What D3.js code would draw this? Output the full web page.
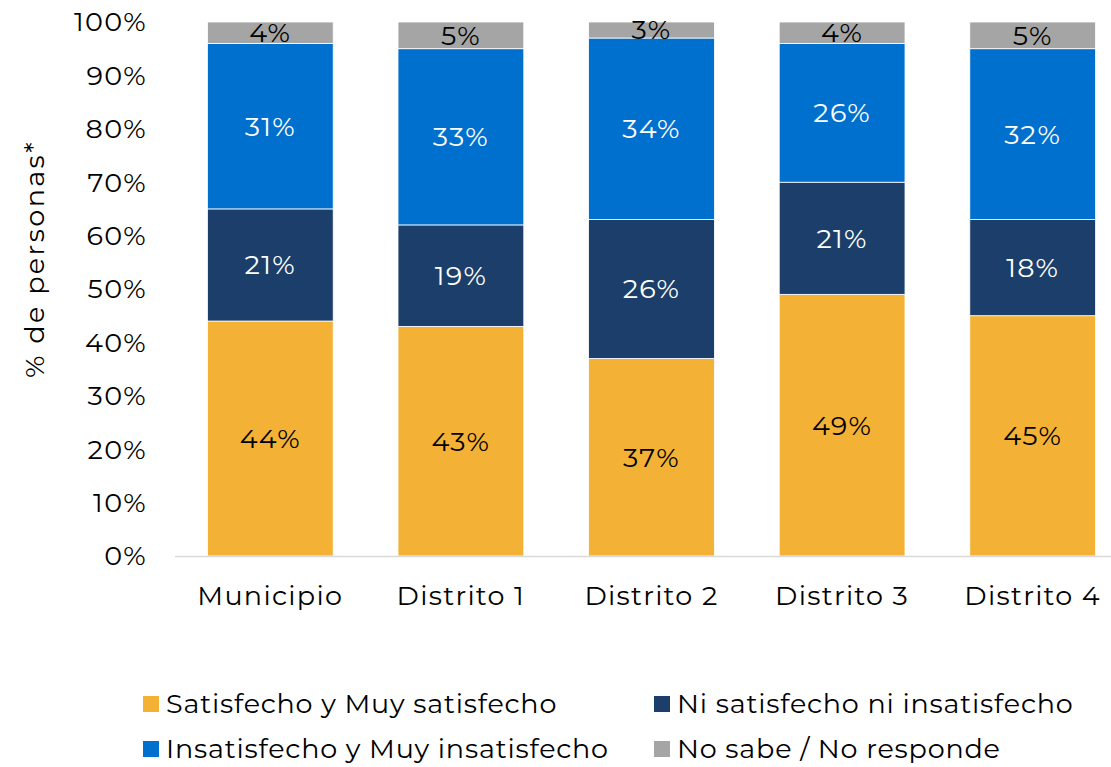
<!DOCTYPE html>
<html>
<head>
<meta charset="utf-8">
<script src="https://cdn.jsdelivr.net/npm/d3@7"></script>
<style>
  html, body { margin: 0; padding: 0; background: #fff; }
  svg text { font-family: Montserrat, "Open Sans", sans-serif; }
</style>
</head>
<body>
<svg id="chart" width="1111" height="767"></svg>
<script>
// Categories and series (percent of people)
const categories = ["Municipio", "Distrito 1", "Distrito 2", "Distrito 3", "Distrito 4"];
const seriesNames = [
  "Satisfecho y Muy satisfecho",
  "Ni satisfecho ni insatisfecho",
  "Insatisfecho y Muy insatisfecho",
  "No sabe / No responde"
];
const satisfecho    = [44, 43, 37, 49, 45];
const neutral       = [21, 19, 26, 21, 18];
const insatisfecho  = [31, 33, 34, 26, 32];
const noSabe        = [4, 5, 3, 4, 5];
const yTicks = [0, 10, 20, 30, 40, 50, 60, 70, 80, 90, 100];
const colors = ["#F3B235", "#1B3F6A", "#0070CF", "#A5A5A5"];
const labelColors = ["#000", "#fff", "#fff", "#000"];

const seriesValues = [satisfecho, neutral, insatisfecho, noSabe];
const rows = categories.map((c, i) => {
  const r = { cat: c };
  seriesNames.forEach((s, k) => r[s] = seriesValues[k][i]);
  return r;
});
const stacked = d3.stack().keys(seriesNames)(rows);

const svg = d3.select("#chart");
const margin = { left: 175, right: 1128, top: 22, bottom: 556 };
const FS = 27, LS = 1.3;

const x = d3.scaleBand().domain(categories).range([margin.left, margin.right])
  .paddingInner(0.34).paddingOuter(0.17);
const y = d3.scaleLinear().domain([0, 100]).range([margin.bottom, margin.top]);

// Y axis tick labels
svg.append("g").selectAll("text").data(yTicks).join("text")
  .attr("x", 147).attr("y", d => y(d)).attr("dy", "0.35em")
  .attr("text-anchor", "end").attr("font-size", FS).attr("letter-spacing", LS)
  .attr("fill", "#000").text(d => d + "%");

// Y axis title
svg.append("text")
  .attr("transform", `translate(44,259) rotate(-90)`)
  .attr("text-anchor", "middle").attr("font-size", FS).attr("letter-spacing", 2.4)
  .text("% de personas*");

// Bars
const layer = svg.append("g").selectAll("g").data(stacked).join("g")
  .attr("fill", (d, i) => colors[i]);
layer.selectAll("rect").data(d => d).join("rect")
  .attr("x", d => x(d.data.cat)).attr("width", x.bandwidth())
  .attr("y", d => y(d[1])).attr("height", d => y(d[0]) - y(d[1]))
  .attr("stroke", "#fff").attr("stroke-width", 0.8);

// Segment value labels
stacked.forEach((s, k) => {
  svg.append("g").selectAll("text").data(s).join("text")
    .attr("x", d => x(d.data.cat) + x.bandwidth() / 2)
    .attr("y", d => (y(d[0]) + y(d[1])) / 2).attr("dy", "0.35em")
    .attr("text-anchor", "middle").attr("font-size", FS).attr("letter-spacing", LS)
    .attr("fill", labelColors[k])
    .text(d => (d[1] - d[0]) + "%");
});

// X axis baseline and category labels
svg.append("line").attr("x1", margin.left).attr("x2", 1111)
  .attr("y1", y(0) + 0.5).attr("y2", y(0) + 0.5)
  .attr("stroke", "#D9D9D9").attr("stroke-width", 1.5);
svg.append("g").selectAll("text").data(categories).join("text")
  .attr("x", d => x(d) + x.bandwidth() / 2).attr("y", 596).attr("dy", "0.35em")
  .attr("text-anchor", "middle").attr("font-size", FS).attr("letter-spacing", LS)
  .text(d => d);

// Legend
const legendPos = [[143, 704], [654, 704], [143, 749], [654, 749]];
const leg = svg.append("g").selectAll("g").data(seriesNames).join("g")
  .attr("transform", (d, i) => `translate(${legendPos[i][0]},${legendPos[i][1]})`);
leg.append("rect").attr("x", 0).attr("y", -8).attr("width", 16).attr("height", 16)
  .attr("fill", (d, i) => colors[i]);
leg.append("text").attr("x", 23).attr("y", 0).attr("dy", "0.35em")
  .attr("font-size", FS).attr("letter-spacing", 0.8).text(d => d);
</script>
</body>
</html>
